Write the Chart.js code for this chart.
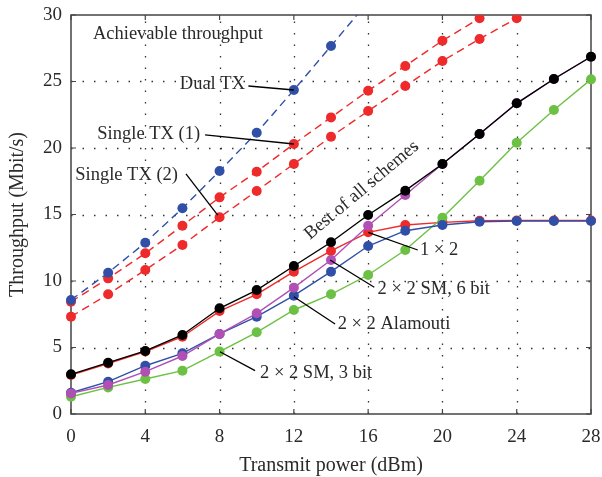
<!DOCTYPE html>
<html><head><meta charset="utf-8">
<script src="https://cdn.jsdelivr.net/npm/chart.js@4.4.0/dist/chart.umd.min.js"></script>
<style>html,body{margin:0;padding:0;background:#fff;}#wrap{width:602px;height:477px;}</style>
</head><body><div id="wrap"><canvas id="c" width="602" height="477"></canvas></div>
<script>
// ---- data ----
const power     = [0, 2, 4, 6, 8, 10, 12, 14, 16, 18, 20, 22, 24, 26, 28];
const dualTx    = [8.57, 10.62, 12.88, 15.47, 18.27, 21.15, 24.36, 27.67, 31.0, null, null, null, null, null, null];
const singleTx1 = [8.44, 10.2, 12.08, 14.16, 16.29, 18.22, 20.3, 22.3, 24.31, 26.17, 28.07, 29.75, 31.5, null, null];
const singleTx2 = [7.32, 9.0, 10.83, 12.71, 14.79, 16.77, 18.8, 20.85, 22.78, 24.66, 26.54, 28.2, 29.75, 31.4, null];
const bestAll   = [2.98, 3.86, 4.74, 5.94, 7.95, 9.32, 11.13, 12.91, 14.96, 16.79, 18.8, 21.05, 23.36, 25.19, 26.86];
const oneByTwo  = [2.93, 3.8, 4.7, 5.81, 7.74, 9.0, 10.7, 12.26, 13.66, 14.21, 14.41, 14.53, 14.55, 14.55, 14.55];
const sm6bit    = [1.55, 2.18, 3.18, 4.36, 6.02, 7.57, 9.5, 11.58, 14.16, 16.47, 18.8, 21.05, 23.36, 25.19, 26.86];
const alamouti  = [1.6, 2.43, 3.63, 4.56, 6.02, 7.32, 8.9, 10.7, 12.63, 13.78, 14.21, 14.46, 14.51, 14.51, 14.51];
const sm3bit    = [1.3, 2.0, 2.63, 3.26, 4.69, 6.14, 7.82, 9.0, 10.45, 12.33, 14.76, 17.54, 20.4, 22.86, 25.16];
const xTicks    = [0, 4, 8, 12, 16, 20, 24, 28];
const yTicks    = [0, 5, 10, 15, 20, 25, 30];
const xTitle    = 'Transmit power (dBm)';
const yTitle    = 'Throughput (Mbit/s)';

// annotation texts
const noteTexts = ['Achievable throughput', 'Dual TX', 'Single TX (1)', 'Single TX (2)', 'Best of all schemes',
                   '1 \u00d7 2', '2 \u00d7 2 SM, 6 bit', '2 \u00d7 2 Alamouti', '2 \u00d7 2 SM, 3 bit'];

// ---- styling / placement (data units) ----
const BLUE = '#3050a8', RED = '#ee2a2a', MAG = '#b050b4', GREEN = '#6cc044', BLACK = '#000000';
const notePlace = [
  {tx: 1.18, ty: 28.57, align: 'left'},
  {tx: 9.37, ty: 24.81, align: 'right', from: [9.55, 24.66], to: [12, 24.36]},
  {tx: 6.95, ty: 21.05, align: 'right', from: [7.22, 20.98], to: [12, 20.3]},
  {tx: 5.76, ty: 17.97, align: 'right', from: [6.19, 18.05], to: [7.9, 14.95]},
  {tx: 12.87, ty: 13.08, align: 'left', rot: -40, baseline: 'alphabetic'},
  {tx: 18.79, ty: 12.33, align: 'left', from: [18.67, 12.33], to: [16, 13.66]},
  {tx: 16.51, ty: 9.38, align: 'left', from: [16.33, 9.53], to: [13.95, 11.58]},
  {tx: 14.36, ty: 6.77, align: 'left', from: [14.22, 6.77], to: [12, 8.82]},
  {tx: 10.18, ty: 3.06, align: 'left', from: [9.91, 3.26], to: [8.02, 4.68]}
];

const FONT = "'Liberation Serif', 'Times New Roman', serif";
const TXT = '#2a2a2a';

function pts(arr) {
  const out = [];
  arr.forEach((v, i) => { if (v !== null) out.push({x: power[i], y: v}); });
  return out;
}
function ds(label, arr, color, dashed, order) {
  return {
    label, data: pts(arr), borderColor: color, backgroundColor: color,
    pointBackgroundColor: color, pointBorderColor: color, pointBorderWidth: 0,
    pointRadius: 5, borderWidth: 1.4, borderDash: dashed ? [8, 5] : [],
    tension: 0, order,
    clip: dashed ? {left: 8, top: 0, right: 8, bottom: 8} : false
  };
}

const framePlugin = {
  id: 'frame',
  beforeDatasetsDraw(chart) {
    const {ctx, chartArea: a, scales: {x, y}} = chart;
    ctx.save();
    ctx.strokeStyle = '#333';
    ctx.lineWidth = 1.3;
    ctx.setLineDash([1.5, 10]);
    xTicks.slice(1, -1).forEach(v => {
      const px = Math.round(x.getPixelForValue(v)) + 0.5;
      ctx.beginPath(); ctx.moveTo(px, a.bottom); ctx.lineTo(px, a.top); ctx.stroke();
    });
    yTicks.slice(1, -1).forEach(v => {
      const py = Math.round(y.getPixelForValue(v)) + 0.5;
      ctx.beginPath(); ctx.moveTo(a.left, py); ctx.lineTo(a.right, py); ctx.stroke();
    });
    ctx.setLineDash([]);
    ctx.strokeStyle = '#444';
    ctx.lineWidth = 1.5;
    ctx.strokeRect(a.left, a.top, a.right - a.left, a.bottom - a.top);
    ctx.lineWidth = 1.2;
    const tl = 5;
    xTicks.forEach(v => {
      const px = x.getPixelForValue(v);
      ctx.beginPath(); ctx.moveTo(px, a.bottom); ctx.lineTo(px, a.bottom - tl);
      ctx.moveTo(px, a.top); ctx.lineTo(px, a.top + tl); ctx.stroke();
    });
    yTicks.forEach(v => {
      const py = y.getPixelForValue(v);
      ctx.beginPath(); ctx.moveTo(a.left, py); ctx.lineTo(a.left + tl, py);
      ctx.moveTo(a.right, py); ctx.lineTo(a.right - tl, py); ctx.stroke();
    });
    ctx.restore();
  },
  afterDatasetsDraw(chart) {
    const {ctx, scales: {x, y}} = chart;
    ctx.save();
    ctx.font = '18.5px ' + FONT;
    ctx.fillStyle = TXT;
    ctx.strokeStyle = '#000';
    ctx.lineWidth = 1.3;
    noteTexts.forEach((t, i) => {
      const p = notePlace[i];
      if (p.from) {
        ctx.beginPath();
        ctx.moveTo(x.getPixelForValue(p.from[0]), y.getPixelForValue(p.from[1]));
        ctx.lineTo(x.getPixelForValue(p.to[0]), y.getPixelForValue(p.to[1]));
        ctx.stroke();
      }
      const px = x.getPixelForValue(p.tx), py = y.getPixelForValue(p.ty);
      ctx.save();
      ctx.translate(px, py);
      if (p.rot) ctx.rotate(p.rot * Math.PI / 180);
      ctx.textAlign = p.align;
      ctx.textBaseline = p.baseline || 'middle';
      ctx.fillText(t, 0, 0);
      ctx.restore();
    });
    ctx.restore();
  }
};

new Chart(document.getElementById('c'), {
  type: 'line',
  data: {
    datasets: [
      ds('Dual TX', dualTx, BLUE, true, 5),
      ds('Single TX (1)', singleTx1, RED, true, 6),
      ds('Single TX (2)', singleTx2, RED, true, 7),
      ds('Best of all schemes', bestAll, BLACK, false, 0),
      ds('2 \u00d7 2 SM, 6 bit', sm6bit, MAG, false, 1),
      ds('2 \u00d7 2 Alamouti', alamouti, BLUE, false, 2),
      ds('2 \u00d7 2 SM, 3 bit', sm3bit, GREEN, false, 3),
      ds('1 \u00d7 2', oneByTwo, RED, false, 4)
    ]
  },
  options: {
    responsive: false, animation: false, devicePixelRatio: 1,
    layout: {padding: {top: 15, right: 11, left: 0, bottom: 0}},
    plugins: {legend: {display: false}, tooltip: {enabled: false}},
    scales: {
      x: {
        type: 'linear', min: 0, max: 28,
        afterFit(s) { s.height = 63; s.paddingLeft = 0; s.paddingRight = 0; },
        afterBuildTicks(s) { s.ticks = xTicks.map(v => ({value: v})); },
        grid: {display: false, drawTicks: false},
        border: {display: false},
        ticks: {font: {family: FONT, size: 19}, color: TXT, padding: 12, maxRotation: 0},
        title: {display: true, text: xTitle, font: {family: FONT, size: 20, lineHeight: 1.1}, color: TXT, padding: {top: 0, bottom: 0}}
      },
      y: {
        type: 'linear', min: 0, max: 30,
        afterFit(s) { s.width = 71; s.paddingTop = 0; s.paddingBottom = 0; },
        afterBuildTicks(s) { s.ticks = yTicks.map(v => ({value: v})); },
        grid: {display: false, drawTicks: false},
        border: {display: false},
        ticks: {font: {family: FONT, size: 19}, color: TXT, padding: 9},
        title: {display: true, text: yTitle, font: {family: FONT, size: 20}, color: TXT, padding: {top: 6, bottom: 0}}
      }
    }
  },
  plugins: [framePlugin]
});
</script></body></html>
